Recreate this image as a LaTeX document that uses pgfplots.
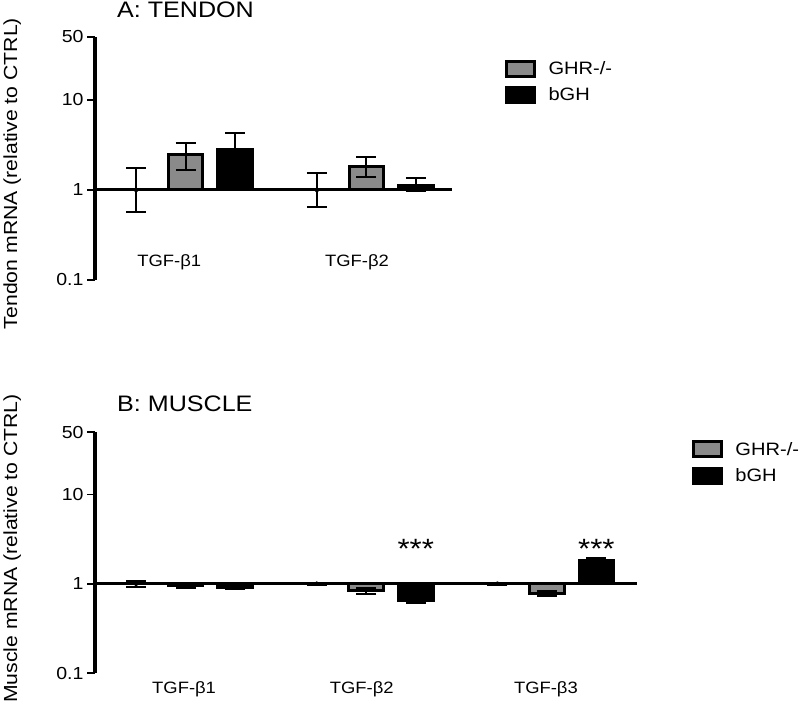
\documentclass[border=0pt]{standalone}
\usepackage{pgfplots}
\pgfplotsset{compat=1.18}
\usepackage{fontspec}
\setmainfont{Liberation Sans}[FakeStretch=1.12]
\definecolor{bargray}{RGB}{138,138,138}
\begin{document}
\begin{tikzpicture}
\useasboundingbox (0,0) rectangle (800bp,703bp);
% Panel A
\begin{axis}[scale only axis, height=243bp,
  ymode=log, log origin y=0, ymin=0.1, ymax=50,
  xmin=-0.83, xmax=6.38, width=357bp,
  at={(95bp,423bp)}, anchor=south west,
  axis y line*=left, axis x line=none,
  ytick={0.1,1,10,50}, yticklabels={0.1,1,10,50},
  y axis line style={line width=3bp},
  tick style={line width=1.8bp, black},
  tick align=outside,
  major tick length=8bp, minor tick length=5.5bp,
  yticklabel style={font=\fontsize{17.5}{20}\selectfont},
  ylabel={Tendon mRNA (relative to CTRL)},
  ylabel style={at={(axis description cs:0,0.5)}, xshift=-15bp, yshift=95bp, anchor=north, font=\fontsize{19}{22}\selectfont},
  title={A: TENDON}, every axis title shift=0pt,
  title style={at={(axis description cs:0,1)}, anchor=base west, xshift=22bp, yshift=19bp, inner sep=0pt, font=\fontsize{22.5}{25}\selectfont},
  clip=false,
  legend cell align=left,
  legend style={at={(1.148,0.909)}, anchor=north west, draw=none, fill=none, inner sep=0pt, row sep=8bp, font=\fontsize{18}{21}\selectfont}]
\addplot[ybar, bar width=0.7, bar shift=0pt, fill=bargray, draw=black, line width=3bp,
  legend image code/.code={\draw[line width=3bp, draw=black, fill=bargray] (0bp,-7.5bp) rectangle (28bp,7.5bp); \path[draw=none, fill=none] (28bp,0bp) -- (40bp,0bp);},
  error bars/.cd, y dir=both, y explicit, error bar style={line width=2bp, black},
  error mark options={rotate=90, mark size=10bp, line width=2bp, black}]
  table[x=x, y=y, y error plus=ep, y error minus=em] {
x y ep em
1 2.45 0.85 0.78
4.65 1.8 0.53 0.41
};
\addlegendentry{GHR-/-}
\addplot[ybar, bar width=0.7, bar shift=0pt, fill=black, draw=black, line width=3bp,
  legend image code/.code={\draw[line width=3bp, draw=black, fill=black] (0bp,-7.5bp) rectangle (28bp,7.5bp); \path[draw=none, fill=none] (28bp,0bp) -- (40bp,0bp);},
  error bars/.cd, y dir=both, y explicit, error bar style={line width=2bp, black},
  error mark options={rotate=90, mark size=10bp, line width=2bp, black}]
  table[x=x, y=y, y error plus=ep, y error minus=em] {
x y ep em
2 2.85 1.45 1.0
5.65 1.12 0.23 0.15
};
\addlegendentry{bGH}
\addplot[forget plot, only marks, mark=none,
  error bars/.cd, y dir=both, y explicit, error bar style={line width=2bp, black},
  error mark options={rotate=90, mark size=10bp, line width=2bp, black}]
  table[x=x, y=y, y error plus=ep, y error minus=em] {
x y ep em
0 1 0.75 0.43
3.65 1 0.55 0.36
};
\addplot[forget plot, line width=3bp, black, no markers] coordinates {(-0.83,1) (6.38,1)};
\node[anchor=base, font=\fontsize{16.5}{19}\selectfont, yshift=13bp] at (axis cs:0.67,0.1) {TGF-β1};
\node[anchor=base, font=\fontsize{16.5}{19}\selectfont, yshift=13bp] at (axis cs:4.46,0.1) {TGF-β2};
\end{axis}
% Panel B
\begin{axis}[scale only axis, height=241bp,
  ymode=log, log origin y=0, ymin=0.1, ymax=50,
  xmin=-0.83, xmax=10.12, width=542bp,
  at={(95bp,30bp)}, anchor=south west,
  axis y line*=left, axis x line=none,
  ytick={0.1,1,10,50}, yticklabels={0.1,1,10,50},
  y axis line style={line width=3bp},
  tick style={line width=1.8bp, black},
  tick align=outside,
  major tick length=8bp, minor tick length=5.5bp,
  yticklabel style={font=\fontsize{17.5}{20}\selectfont},
  ylabel={Muscle mRNA (relative to CTRL)},
  ylabel style={at={(axis description cs:0,0.5)}, xshift=4bp, yshift=95bp, anchor=north, font=\fontsize{19}{22}\selectfont},
  title={B: MUSCLE}, every axis title shift=0pt,
  title style={at={(axis description cs:0,1)}, anchor=base west, xshift=22bp, yshift=20bp, inner sep=0pt, font=\fontsize{22.5}{25}\selectfont},
  clip=false,
  legend cell align=left,
  legend style={at={(1.101,0.967)}, anchor=north west, draw=none, fill=none, inner sep=0pt, row sep=8bp, font=\fontsize{18}{21}\selectfont}]
\addplot[ybar, bar width=0.7, bar shift=0pt, fill=bargray, draw=black, line width=3bp,
  legend image code/.code={\draw[line width=3bp, draw=black, fill=bargray] (0bp,-7.5bp) rectangle (28bp,7.5bp); \path[draw=none, fill=none] (28bp,0bp) -- (40bp,0bp);},
  error bars/.cd, y dir=both, y explicit, error bar style={line width=2bp, black},
  error mark options={rotate=90, mark size=10bp, line width=2bp, black}]
  table[x=x, y=y, y error plus=ep, y error minus=em] {
x y ep em
1 0.95 0.04 0.06
4.65 0.84 0.05 0.08
8.3 0.78 0.04 0.06
};
\addlegendentry{GHR-/-}
\addplot[ybar, bar width=0.7, bar shift=0pt, fill=black, draw=black, line width=3bp,
  legend image code/.code={\draw[line width=3bp, draw=black, fill=black] (0bp,-7.5bp) rectangle (28bp,7.5bp); \path[draw=none, fill=none] (28bp,0bp) -- (40bp,0bp);},
  error bars/.cd, y dir=both, y explicit, error bar style={line width=2bp, black},
  error mark options={rotate=90, mark size=10bp, line width=2bp, black}]
  table[x=x, y=y, y error plus=ep, y error minus=em] {
x y ep em
2 0.9 0.03 0.03
5.65 0.65 0.04 0.04
9.3 1.8 0.12 0.1
};
\addlegendentry{bGH}
\addplot[forget plot, only marks, mark=none,
  error bars/.cd, y dir=both, y explicit, error bar style={line width=2bp, black},
  error mark options={rotate=90, mark size=10bp, line width=2bp, black}]
  table[x=x, y=y, y error plus=ep, y error minus=em] {
x y ep em
0 1 0.08 0.07
3.65 1 0.03 0.03
7.3 1 0.03 0.03
};
\addplot[forget plot, line width=3bp, black, no markers] coordinates {(-0.83,1) (10.12,1)};
\node[anchor=base, font=\fontsize{28}{30}\selectfont] at (axis cs:5.65,1.9) {***};
\node[anchor=base, font=\fontsize{28}{30}\selectfont] at (axis cs:9.3,1.9) {***};
\node[anchor=base, font=\fontsize{16.5}{19}\selectfont, yshift=-20bp] at (axis cs:0.97,0.1) {TGF-β1};
\node[anchor=base, font=\fontsize{16.5}{19}\selectfont, yshift=-20bp] at (axis cs:4.56,0.1) {TGF-β2};
\node[anchor=base, font=\fontsize{16.5}{19}\selectfont, yshift=-20bp] at (axis cs:8.28,0.1) {TGF-β3};
\end{axis}
\end{tikzpicture}
\end{document}
